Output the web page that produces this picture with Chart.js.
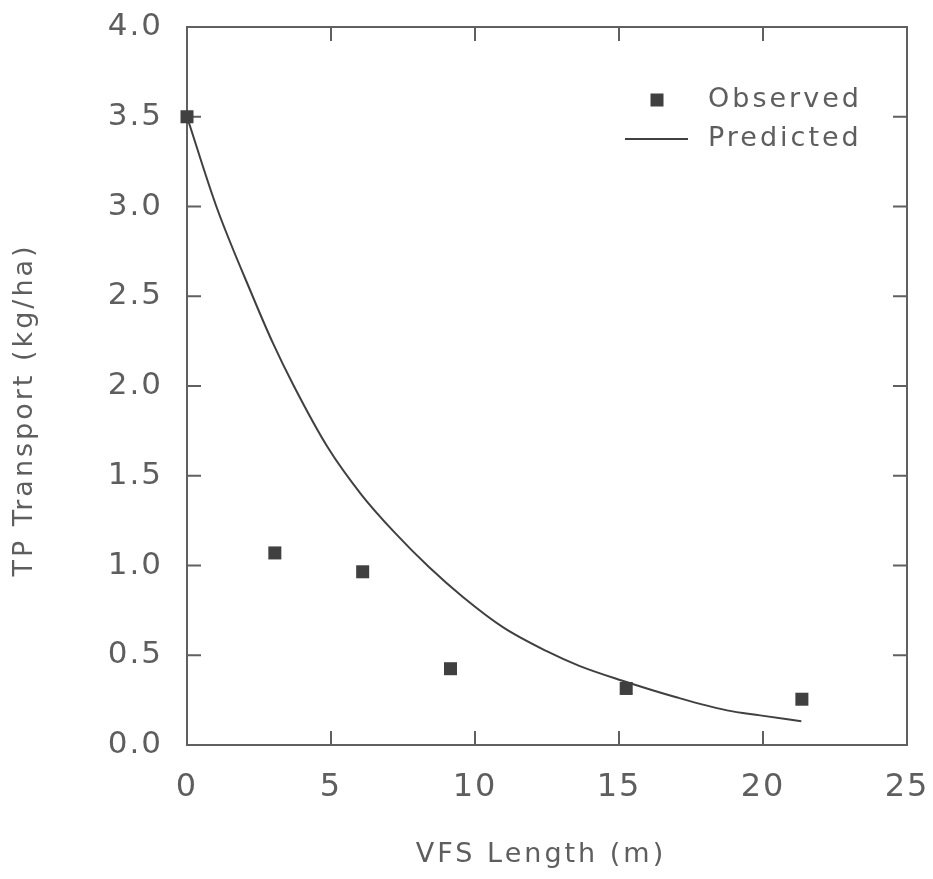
<!DOCTYPE html>
<html>
<head>
<meta charset="utf-8">
<script src="https://cdn.jsdelivr.net/npm/chart.js@4/dist/chart.umd.min.js"></script>
<style>
  html, body { margin: 0; padding: 0; background: #fff; }
  #wrap { width: 933px; height: 879px; position: relative; }
</style>
</head>
<body>
<div id="wrap"><canvas id="c"></canvas></div>
<script>
// Observed TP transport at each filter strip length
const vfsLength = [0, 3.05, 6.1, 9.15, 15.25, 21.35];
const observedTP = [3.5, 1.07, 0.965, 0.425, 0.315, 0.255];

// Model prediction along the strip
const predictedLength = [0, 1.02, 2.28, 2.98, 3.71, 4.88, 6.06, 7.23, 8.41, 9.59, 10.98, 12.47, 13.62, 15.12, 16.99, 18.75, 19.9, 21.33];
const predictedTP = [3.5, 3.0, 2.5, 2.24, 2.0, 1.66, 1.394, 1.18, 0.99, 0.823, 0.655, 0.524, 0.441, 0.358, 0.266, 0.193, 0.165, 0.132];

// Axis ranges and labels
const xTicks = [0, 5, 10, 15, 20, 25];
const yTicks = [0, 0.5, 1.0, 1.5, 2.0, 2.5, 3.0, 3.5, 4.0];
const xTitle = 'VFS Length (m)';
const yTitle = 'TP Transport (kg/ha)';
const seriesNames = ['Observed', 'Predicted'];

const INK = '#5e5e5e';
const MARK = '#404040';
const FONT = '"DejaVu Sans", "Liberation Sans", sans-serif';

// Frame with inward tick marks on all four sides, titles and an inset legend
const framePlugin = {
  id: 'frame',
  beforeDraw(chart) {
    chart.ctx.letterSpacing = '2px';
  },
  beforeDatasetsDraw(chart) {
    const { ctx, chartArea: a, scales } = chart;
    ctx.save();
    ctx.strokeStyle = '#606060';
    ctx.lineWidth = 2;
    ctx.strokeRect(a.left, a.top, a.right - a.left, a.bottom - a.top);
    const len = 14;
    ctx.beginPath();
    xTicks.forEach(v => {
      if (v <= scales.x.min || v >= scales.x.max) return;
      const px = scales.x.getPixelForValue(v);
      ctx.moveTo(px, a.bottom); ctx.lineTo(px, a.bottom - len);
      ctx.moveTo(px, a.top); ctx.lineTo(px, a.top + len);
    });
    yTicks.forEach(v => {
      if (v <= scales.y.min || v >= scales.y.max) return;
      const py = scales.y.getPixelForValue(v);
      ctx.moveTo(a.left, py); ctx.lineTo(a.left + len, py);
      ctx.moveTo(a.right, py); ctx.lineTo(a.right - len, py);
    });
    ctx.stroke();
    ctx.restore();
  },
  afterDraw(chart) {
    const { ctx } = chart;
    ctx.save();
    ctx.letterSpacing = '3px';
    ctx.fillStyle = INK;
    ctx.font = '27px ' + FONT;
    ctx.textBaseline = 'middle';
    // axis titles
    ctx.textAlign = 'center';
    ctx.fillText(xTitle, 541, 855);
    ctx.save();
    ctx.translate(25, 410);
    ctx.rotate(-Math.PI / 2);
    ctx.fillText(yTitle, 0, 0);
    ctx.restore();
    // legend
    const ds = chart.data.datasets;
    const lx = 657, rows = [100, 139];
    ctx.textAlign = 'left';
    ds.forEach((d, i) => {
      const y = rows[i];
      if (d.showLine === false) {
        ctx.fillStyle = MARK;
        ctx.fillRect(lx - 6.5, y - 6.5, 13, 13);
      } else {
        ctx.strokeStyle = MARK;
        ctx.lineWidth = 2;
        ctx.beginPath();
        ctx.moveTo(lx - 32, y); ctx.lineTo(lx + 31, y);
        ctx.stroke();
      }
      ctx.fillStyle = INK;
      ctx.fillText(d.label, 708, y);
    });
    ctx.restore();
  }
};

const noOverhang = s => {
  s.paddingLeft = 0; s.paddingRight = 0; s.paddingTop = 0; s.paddingBottom = 0;
};

new Chart(document.getElementById('c'), {
  type: 'scatter',
  data: {
    datasets: [
      {
        label: seriesNames[0],
        data: vfsLength.map((x, i) => ({ x, y: observedTP[i] })),
        showLine: false,
        pointStyle: 'rect',
        pointRadius: 9.2,
        pointHoverRadius: 9.2,
        backgroundColor: MARK,
        borderColor: MARK,
        borderWidth: 0,
        clip: false,
        order: 0
      },
      {
        label: seriesNames[1],
        data: predictedLength.map((x, i) => ({ x, y: predictedTP[i] })),
        showLine: true,
        pointRadius: 0,
        borderColor: MARK,
        borderWidth: 2,
        cubicInterpolationMode: 'monotone',
        fill: false,
        order: 1
      }
    ]
  },
  options: {
    responsive: true,
    maintainAspectRatio: false,
    animation: false,
    events: [],
    layout: { padding: { top: 27, right: 26, left: 0, bottom: 0 } },
    plugins: { legend: { display: false }, tooltip: { enabled: false } },
    scales: {
      x: {
        type: 'linear',
        min: 0, max: 25,
        afterBuildTicks: s => { s.ticks = xTicks.map(v => ({ value: v })); },
        ticks: {
          color: INK,
          font: { family: FONT, size: 32 },
          padding: 15,
          maxRotation: 0,
          callback: v => String(v)
        },
        grid: { display: false },
        border: { display: false },
        afterFit: s => { s.height = 134; noOverhang(s); }
      },
      y: {
        type: 'linear',
        min: 0, max: 4,
        afterBuildTicks: s => { s.ticks = yTicks.map(v => ({ value: v })); },
        ticks: {
          color: INK,
          font: { family: FONT, size: 31 },
          padding: 16,
          callback: v => Number(v).toFixed(1)
        },
        grid: { display: false },
        border: { display: false },
        afterFit: s => { s.width = 187; noOverhang(s); }
      }
    }
  },
  plugins: [framePlugin]
});
</script>
</body>
</html>
